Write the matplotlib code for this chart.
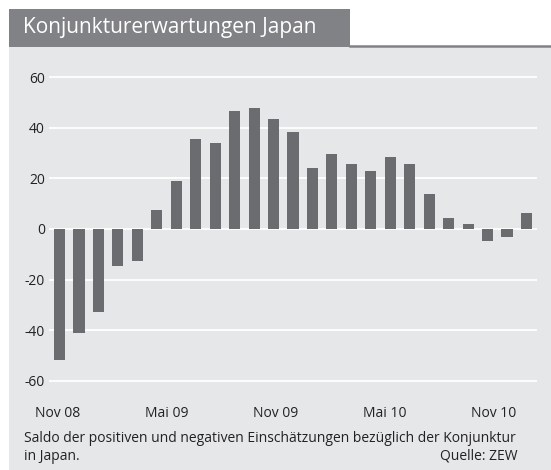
import numpy as np
import matplotlib.pyplot as plt
from matplotlib.patches import Rectangle
from matplotlib.lines import Line2D

# ZEW Konjunkturerwartungen Japan, Nov 08 - Nov 10 (monthly)
saldo = [-51.7, -41.0, -32.7, -14.5, -12.5, 7.5, 19.1, 35.6, 34.0, 46.7,
         47.9, 43.5, 38.4, 24.1, 29.7, 25.7, 22.9, 28.5, 25.7, 13.9,
         4.5, 2.0, -4.6, -3.0, 6.3]
x_labels = ["Nov 08", "Mai 09", "Nov 09", "Mai 10", "Nov 10"]
y_ticks = [-60, -40, -20, 0, 20, 40, 60]

bg = "#e6e7e9"
bar_col = "#6b6c6f"
head_col = "#818285"
font = "Open Sans"

fig = plt.figure(figsize=(5.51, 4.70), dpi=100)
W, H = 551, 470

def fx(px):
    return px / W

def fy(py):
    return 1 - py / H

# panel background + title bar
fig.patches.append(Rectangle((fx(9), 0), 1 - fx(9), fy(47), transform=fig.transFigure,
                             facecolor=bg, edgecolor="none", zorder=-2))
fig.patches.append(Rectangle((fx(9), fy(46.5)), fx(350) - fx(9), fy(9) - fy(46.5),
                             transform=fig.transFigure, facecolor=head_col,
                             edgecolor="none", zorder=-1))
fig.lines.append(Line2D([fx(350), 1], [fy(45.5), fy(45.5)], transform=fig.transFigure,
                        color=head_col, linewidth=1.8, zorder=-1))
fig.text(fx(23), fy(28), "Konjunkturerwartungen Japan", color="white",
         fontsize=15, family=font, va="center", ha="left")

ax = fig.add_axes([fx(49), fy(390.8), fx(537) - fx(49), (390.8 - 67.2) / H])
ax.set_zorder(5)
ax.set_facecolor("none")
idx = np.arange(len(saldo))
ax.bar(idx, saldo, width=0.57, color=bar_col, zorder=3)
ax.set_xlim(-0.54, 24.54)
ax.set_ylim(-64, 64)
ax.set_yticks(y_ticks)
ax.set_yticklabels([str(v) for v in y_ticks], family=font, fontsize=10, color="#222222")
for v in y_ticks:
    ax.axhline(v, color="white", linewidth=1.3, zorder=1)
ax.set_xticks(np.linspace(-0.08, 22.33, len(x_labels)))
ax.set_xticklabels(x_labels, family=font, fontsize=10, color="#222222")
ax.tick_params(axis="both", length=0)
ax.tick_params(axis="y", pad=3)
ax.tick_params(axis="x", pad=11)
for s in ax.spines.values():
    s.set_visible(False)

fig.text(fx(24), fy(439), "Saldo der positiven und negativen Einschätzungen bezüglich der Konjunktur",
         family=font, fontsize=10, color="#222222", va="center", ha="left")
fig.text(fx(24), fy(456), "in Japan.", family=font, fontsize=10, color="#222222",
         va="center", ha="left")
fig.text(fx(517), fy(456), "Quelle: ZEW", family=font, fontsize=10, color="#222222",
         va="center", ha="right")

fig.savefig("out.png", dpi=100)
